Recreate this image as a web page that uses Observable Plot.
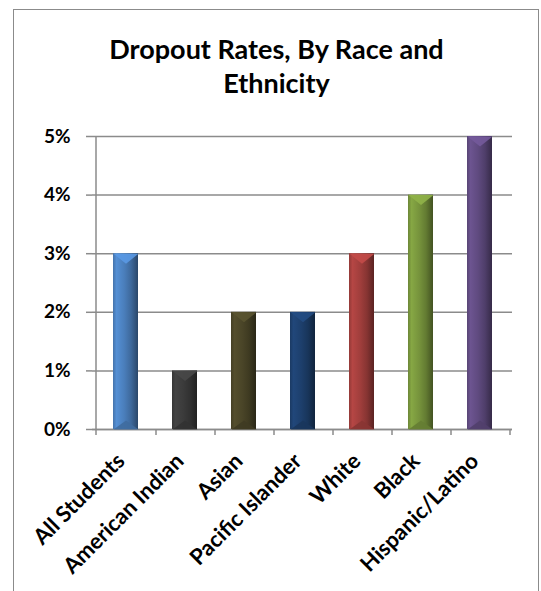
<!DOCTYPE html>
<html>
<head>
<meta charset="utf-8">
<script src="https://cdn.jsdelivr.net/npm/d3@7"></script>
<script src="https://cdn.jsdelivr.net/npm/@observablehq/plot@0.6"></script>
<style>
  html, body { margin: 0; padding: 0; background: #fff; }
  #wrap { position: relative; width: 541px; height: 591px; overflow: hidden; font-family: Lato, "Open Sans", sans-serif; }
  #border { position: absolute; left: 13px; top: 9px; width: 526px; height: 700px; border: 1.5px solid #8b8b8b; box-sizing: border-box; }
  #title { position: absolute; left: 14px; width: 525px; top: 32px; text-align: center; font-weight: bold; font-size: 27px; line-height: 34px; color: #000; }
  #title span { display: inline-block; max-width: 400px; }
  #chart { position: absolute; left: 0; top: 0; }
  #defs { position: absolute; width: 0; height: 0; }
</style>
</head>
<body>
<div id="wrap">
  <div id="border"></div>
  <div id="title"><span></span></div>
  <div id="chart"></div>
</div>
<script>
const title = "Dropout Rates, By Race and Ethnicity";
const categories = ["All Students", "American Indian", "Asian", "Pacific Islander", "White", "Black", "Hispanic/Latino"];
const values = [0.03, 0.01, 0.02, 0.02, 0.03, 0.04, 0.05];
const yTicks = [0, 0.01, 0.02, 0.03, 0.04, 0.05];
const barColors = ["#4a7ebb", "#3b3b3b", "#4a4528", "#1d3f6c", "#a03e3c", "#76933c", "#5f4a7f"];

document.querySelector("#title span").textContent = title;

const data = categories.map((c, i) => ({cat: c, value: values[i], idx: i}));

// gradient definitions (cylinder-like shading)
const defsSvg = d3.select("body").append("svg").attr("id", "defs").attr("width", 0).attr("height", 0);
const defs = defsSvg.append("defs");
barColors.forEach((c, i) => {
  const base = d3.color(c);
  const g = defs.append("linearGradient").attr("id", "g" + i).attr("x1", "0").attr("x2", "1").attr("y1", "0").attr("y2", "0");
  [[0, base.darker(0.25)], [0.14, base.brighter(0.35)], [0.45, base], [0.72, base.darker(0.5)], [1, base.darker(1.6)]]
    .forEach(([o, col]) => g.append("stop").attr("offset", o).attr("stop-color", col.formatHex()));
});

const topTri = {draw(ctx) { ctx.moveTo(-12.5, 0); ctx.lineTo(12.5, 0); ctx.lineTo(0, 10); ctx.closePath(); }};
const botTri = {draw(ctx) { ctx.moveTo(-12.5, 0); ctx.lineTo(12.5, 0); ctx.lineTo(0, -9); ctx.closePath(); }};

const gray = "#8b8b8b";

const plot = Plot.plot({
  width: 541,
  height: 591,
  marginTop: 136,
  marginBottom: 162,
  marginLeft: 92,
  marginRight: 29,
  style: {fontFamily: "Lato, 'Open Sans', sans-serif", fontSize: "18px", fontWeight: "bold", color: "#000", background: "transparent"},
  x: {domain: categories, paddingInner: 0.583, paddingOuter: 0.2917, align: 0.5, label: null},
  y: {domain: [0, 0.05], label: null},
  color: {type: "identity"},
  marks: [
    Plot.gridY(yTicks, {stroke: gray, strokeOpacity: 1, strokeWidth: 1.5}),
    Plot.ruleY([0], {stroke: gray, strokeWidth: 1.5}),
    Plot.ruleX([categories[0]], {x: d => d, y1: () => 0.05, y2: () => 0, dx: -30, insetBottom: -6, stroke: gray, strokeWidth: 1.5}),
    Plot.ruleX(categories, {x: d => d, y1: () => 0, y2: () => 0, dx: 30, insetBottom: -6, stroke: gray, strokeWidth: 1.5}),
    Plot.barY(data, {x: "cat", y: "value", fill: d => `url(#g${d.idx})`}),
    Plot.dot(data, {x: "cat", y: "value", symbol: topTri, r: 5, fill: d => d3.color(barColors[d.idx]).brighter(0.55).formatHex(), stroke: "none", fillOpacity: 0.9}),
    Plot.dot(data, {x: "cat", y: () => 0, symbol: botTri, r: 5, fill: d => d3.color(barColors[d.idx]).darker(0.45).formatHex(), stroke: "none", fillOpacity: 0.9}),
    Plot.axisY(yTicks, {tickFormat: d3.format(".0%"), tickSize: 6, tickPadding: 16, stroke: gray, strokeWidth: 1.5, fontSize: 19}),
    Plot.axisX({tickSize: 0, tickRotate: -45, tickPadding: 28, dx: -5, fontSize: 22})
  ]
});
document.getElementById("chart").appendChild(plot);
</script>
</body>
</html>
